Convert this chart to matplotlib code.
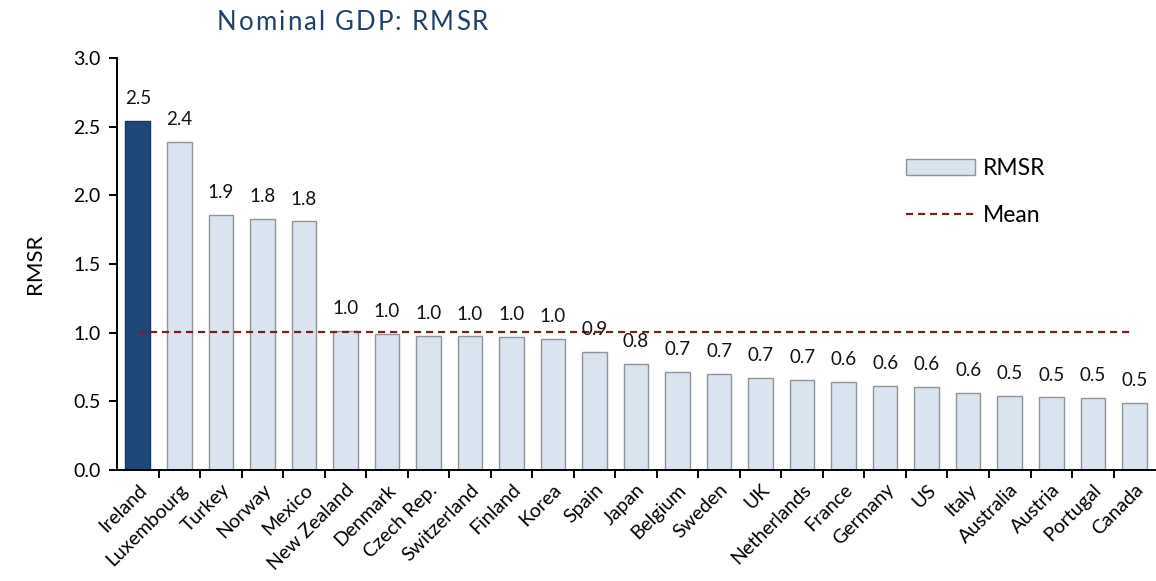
import matplotlib.pyplot as plt
from matplotlib.patches import Patch
from matplotlib.lines import Line2D

countries = [
    "Ireland", "Luxembourg", "Turkey", "Norway", "Mexico", "New Zealand",
    "Denmark", "Czech Rep.", "Switzerland", "Finland", "Korea", "Spain",
    "Japan", "Belgium", "Sweden", "UK", "Netherlands", "France", "Germany",
    "US", "Italy", "Australia", "Austria", "Portugal", "Canada",
]
rmsr = [
    2.54, 2.39, 1.86, 1.83, 1.81, 1.015, 0.99, 0.978, 0.973, 0.969, 0.954,
    0.859, 0.772, 0.714, 0.699, 0.672, 0.653, 0.641, 0.612, 0.602, 0.561,
    0.541, 0.529, 0.524, 0.488,
]
mean_rmsr = 1.007
yticks = [0.0, 0.5, 1.0, 1.5, 2.0, 2.5, 3.0]

plt.rcParams["font.family"] = ["Lato", "DejaVu Sans"]

fig = plt.figure(figsize=(11.56, 5.81), dpi=100)
ax = fig.add_axes([0.1012, 0.191, 0.898, 0.709])

n = len(countries)
x = list(range(n))
fills = ["#1F477A"] + ["#DAE3F0"] * (n - 1)
edges = ["#17365D"] + ["#8E9299"] * (n - 1)
ax.bar(x, rmsr, width=0.59, color=fills, edgecolor=edges, linewidth=1.0, zorder=2)

for xi, v in zip(x, rmsr):
    ax.annotate(f"{v:.1f}", (xi, v), xytext=(0, 10), textcoords="offset points",
                ha="center", va="bottom", fontsize=13.5, color="#111111", zorder=4)

mean_color = "#7A1F1F"
mean_dash = (0, (3.2, 2.2))
ax.plot([0, n - 1], [mean_rmsr, mean_rmsr], color=mean_color, linestyle=mean_dash,
        linewidth=1.6, zorder=3)

ax.set_xlim(-0.5, n - 0.5)
ax.set_ylim(0, 3.0)
ax.set_yticks(yticks)
ax.set_yticklabels([f"{t:.1f}" for t in yticks], fontsize=14)
ax.set_xticks(x)
ax.set_xticklabels(countries, rotation=45, ha="right", rotation_mode="anchor",
                   fontsize=14)
ax.tick_params(axis="x", length=0, pad=8)
ax.set_xticks([i - 0.5 for i in range(1, n)], minor=True)
ax.tick_params(axis="x", which="minor", length=6, width=1.4, direction="out")
ax.tick_params(axis="y", length=6, width=1.4, direction="out", pad=6)

for side in ["top", "right"]:
    ax.spines[side].set_visible(False)
for side in ["left", "bottom"]:
    ax.spines[side].set_linewidth(1.4)

ax.set_ylabel("RMSR", fontsize=16, labelpad=20)

handles = [
    Patch(facecolor="#DAE3F0", edgecolor="#8E9299", linewidth=1.0, label="RMSR"),
    Line2D([], [], color=mean_color, linestyle=mean_dash, linewidth=1.6, label="Mean"),
]
ax.legend(handles=handles, loc="upper left", bbox_to_anchor=(0.740, 0.808),
          frameon=False, fontsize=16.5, handlelength=3.0, handletextpad=0.35,
          labelspacing=1.15)

# spaced-out title, laid out one glyph at a time
title = "Nominal GDP: RMSR"
title_size = 18.5
tracking = 2.0
renderer = fig.canvas.get_renderer()
probe = fig.text(0, 0, "", fontsize=title_size)


def prefix_width(s):
    probe.set_text(s + "|")
    w = probe.get_window_extent(renderer).width
    probe.set_text("|")
    return w - probe.get_window_extent(renderer).width


x0 = 217
for i, ch in enumerate(title):
    if ch == " ":
        continue
    px = x0 + prefix_width(title[:i]) + tracking * i
    fig.text(px / fig.bbox.width, 1 - 22 / fig.bbox.height, ch, fontsize=title_size,
             color="#1F3F6B", ha="left", va="center")
probe.remove()

fig.savefig("out.png", dpi=100)
